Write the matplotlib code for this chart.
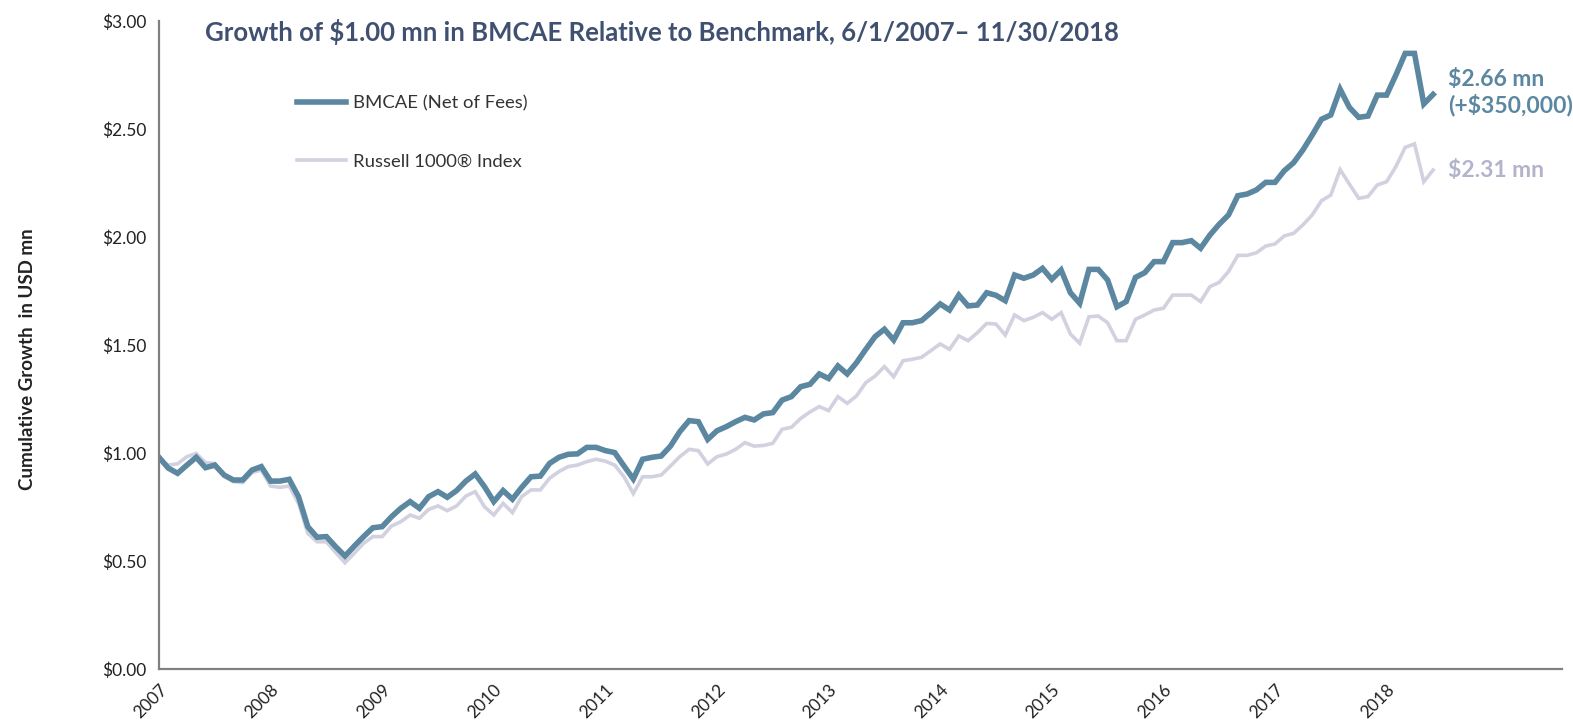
import numpy as np
import matplotlib
matplotlib.use("Agg")
import matplotlib.pyplot as plt

# monthly growth of $1.00 mn, Jun 2007 - Nov 2018
bmcae = [0.98, 0.93, 0.906, 0.944, 0.98, 0.932, 0.944, 0.898, 0.875, 0.875, 0.921, 0.937,
         0.870, 0.870, 0.878, 0.798, 0.659, 0.610, 0.613, 0.566, 0.523, 0.569, 0.613, 0.654,
         0.659, 0.705, 0.744, 0.775, 0.744, 0.798, 0.821, 0.795, 0.826, 0.870, 0.903, 0.844,
         0.775, 0.826, 0.786, 0.841, 0.890, 0.893, 0.952, 0.980, 0.994, 0.996, 1.026, 1.026,
         1.011, 1.002, 0.940, 0.880, 0.971, 0.980, 0.986, 1.032, 1.099, 1.150, 1.145, 1.063,
         1.103, 1.122, 1.145, 1.165, 1.153, 1.181, 1.187, 1.245, 1.261, 1.307, 1.318, 1.366,
         1.345, 1.403, 1.366, 1.418, 1.480, 1.539, 1.573, 1.523, 1.603, 1.603, 1.613, 1.650,
         1.690, 1.662, 1.731, 1.681, 1.685, 1.742, 1.730, 1.705, 1.824, 1.809, 1.824, 1.855,
         1.804, 1.847, 1.742, 1.693, 1.850, 1.850, 1.801, 1.677, 1.701, 1.813, 1.835, 1.886,
         1.886, 1.974, 1.974, 1.983, 1.948, 2.009, 2.059, 2.102, 2.191, 2.199, 2.218, 2.253,
         2.253, 2.307, 2.344, 2.403, 2.472, 2.545, 2.565, 2.684, 2.600, 2.554, 2.560, 2.657,
         2.657, 2.750, 2.850, 2.850, 2.616, 2.660]

russell = [0.97, 0.944, 0.95, 0.983, 0.998, 0.955, 0.952, 0.892, 0.867, 0.863, 0.909, 0.921,
           0.847, 0.841, 0.847, 0.767, 0.628, 0.589, 0.589, 0.539, 0.492, 0.536, 0.582, 0.613,
           0.613, 0.662, 0.682, 0.713, 0.698, 0.739, 0.755, 0.733, 0.755, 0.801, 0.821, 0.751,
           0.713, 0.767, 0.724, 0.798, 0.829, 0.829, 0.883, 0.914, 0.937, 0.944, 0.960, 0.971,
           0.962, 0.944, 0.890, 0.812, 0.890, 0.890, 0.898, 0.940, 0.983, 1.017, 1.011, 0.949,
           0.983, 0.995, 1.017, 1.048, 1.032, 1.035, 1.045, 1.110, 1.119, 1.160, 1.190, 1.215,
           1.196, 1.261, 1.230, 1.264, 1.326, 1.356, 1.400, 1.353, 1.427, 1.434, 1.443, 1.474,
           1.505, 1.480, 1.542, 1.520, 1.557, 1.600, 1.597, 1.546, 1.639, 1.613, 1.628, 1.650,
           1.619, 1.650, 1.551, 1.508, 1.631, 1.634, 1.603, 1.520, 1.520, 1.619, 1.639, 1.662,
           1.670, 1.731, 1.731, 1.731, 1.701, 1.770, 1.790, 1.840, 1.915, 1.915, 1.927, 1.958,
           1.968, 2.005, 2.017, 2.056, 2.102, 2.168, 2.194, 2.312, 2.245, 2.179, 2.187, 2.241,
           2.256, 2.326, 2.415, 2.431, 2.256, 2.310]

years = ["2007", "2008", "2009", "2010", "2011", "2012", "2013", "2014", "2015", "2016", "2017", "2018"]
yticks = [0, 0.5, 1.0, 1.5, 2.0, 2.5, 3.0]

blue = "#5b87a1"
lav = "#d2d1e0"

plt.rcParams["font.family"] = ["Lato", "DejaVu Sans"]

fig = plt.figure(figsize=(15.73, 7.25), dpi=100)
ax = fig.add_axes([159 / 1573, 1 - 669 / 725, (1562 - 159) / 1573, (669 - 21) / 725])

x = np.arange(len(bmcae))
ax.plot(x, russell, color=lav, lw=2.6, label="Russell 1000\u00ae Index", solid_joinstyle="miter")
ax.plot(x, bmcae, color=blue, lw=4.0, label="BMCAE (Net of Fees)", solid_joinstyle="miter")

ax.set_xlim(0, (1562 - 159) / 9.3)
ax.set_ylim(0, 3)
ax.set_yticks(yticks)
ax.set_yticklabels([f"${v:.2f}" for v in yticks], fontsize=12.5, color="#222222")
ax.set_xticks(np.arange(0, 12 * len(years), 12))
ax.set_xticklabels(years, rotation=45, ha="right", va="top", rotation_mode="anchor",
                   fontsize=12.5, color="#222222")
ax.tick_params(length=0, pad=9)
for s in ["top", "right"]:
    ax.spines[s].set_visible(False)
for s in ["left", "bottom"]:
    ax.spines[s].set_color("#808080")
    ax.spines[s].set_linewidth(1.6)

fig.text(28 / 1573, 1 - 359 / 725, "Cumulative Growth  in USD mn", rotation=90,
         ha="center", va="center", fontsize=13.5, fontweight="bold", color="#222222")
fig.text(205 / 1573, 1 - 32 / 725,
         "Growth of $1.00 mn in BMCAE Relative to Benchmark, 6/1/2007\u2013 11/30/2018",
         ha="left", va="center", fontsize=18.5, fontweight="bold", color="#3f5070")

h, l = ax.get_legend_handles_labels()
fig.legend(h[::-1], l[::-1], loc="upper left", bbox_to_anchor=(297 / 1573, 1 - 95 / 725),
           frameon=False, fontsize=13.3, handlelength=2.65, handletextpad=0.4,
           labelspacing=2.3, borderpad=0, borderaxespad=0, labelcolor="#333333")

xe = len(bmcae) - 1 + 1.6
ax.text(xe, 2.727, "$2.66 mn", fontsize=16.5, fontweight="bold", color=blue, va="center", ha="left")
ax.text(xe, 2.612, "(+$350,000)", fontsize=16.5, fontweight="bold", color=blue, va="center", ha="left")
ax.text(xe, 2.306, "$2.31 mn", fontsize=16.5, fontweight="bold", color="#b4b3cc", va="center", ha="left")

fig.savefig("out.png", dpi=100)
